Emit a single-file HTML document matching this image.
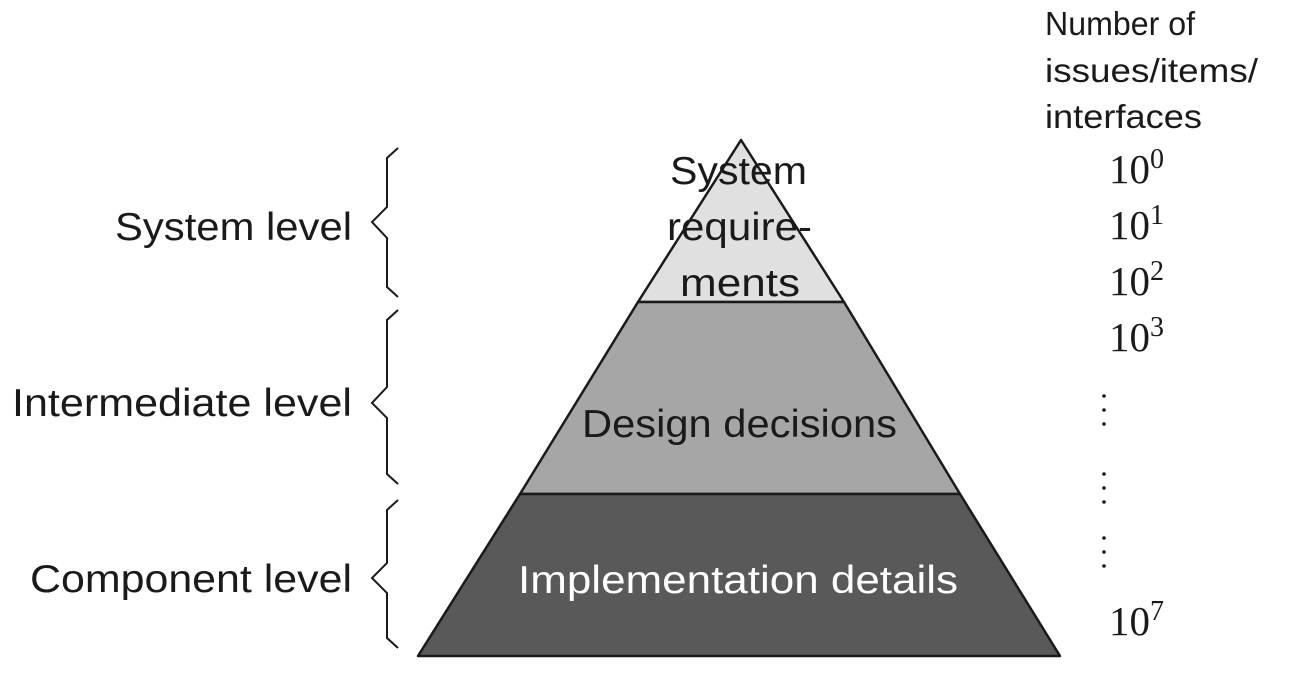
<!DOCTYPE html>
<html><head><meta charset="utf-8"><style>
html,body{margin:0;padding:0;background:#fff;}
svg{display:block;}
</style></head><body>
<svg width="1308" height="688" viewBox="0 0 1308 688" xmlns="http://www.w3.org/2000/svg">
<g stroke="#1a1a1a" stroke-width="2.5" stroke-linejoin="round">
<polygon points="741,140 638,302 844,302" fill="#e0e0e0"/>
<polygon points="638,302 844,302 960,494 520,494" fill="#a6a6a6"/>
<polygon points="520,494 960,494 1060,656 418,656" fill="#595959"/>
</g>
<g fill="none" stroke="#1a1a1a" stroke-width="2">
<polyline points="398,148 387,158 387,207 372,222 387,238 387,287 398,297"/>
<polyline points="398,310 387,320 387,387 372,403 387,418 387,474 398,484"/>
<polyline points="398,500 387,510 387,563 372,578 387,593 387,638 398,648"/>
</g>
<g font-family="Liberation Sans, sans-serif" font-size="39" fill="#1a1a1a" lengthAdjust="spacingAndGlyphs">
<text x="115" y="240" textLength="237" lengthAdjust="spacingAndGlyphs">System level</text>
<text x="12" y="416" textLength="340" lengthAdjust="spacingAndGlyphs">Intermediate level</text>
<text x="30" y="592" textLength="322" lengthAdjust="spacingAndGlyphs">Component level</text>
<text x="670" y="184" textLength="137" lengthAdjust="spacingAndGlyphs">System</text>
<text x="667" y="240" textLength="145" lengthAdjust="spacingAndGlyphs">require-</text>
<text x="680" y="296" textLength="120" lengthAdjust="spacingAndGlyphs">ments</text>
<text x="582" y="437" textLength="315" lengthAdjust="spacingAndGlyphs">Design decisions</text>
<text x="518" y="593" textLength="440" lengthAdjust="spacingAndGlyphs" fill="#fff">Implementation details</text>
</g>
<g font-family="Liberation Sans, sans-serif" font-size="33" fill="#1a1a1a">
<text x="1045" y="35" textLength="150" lengthAdjust="spacingAndGlyphs">Number of</text>
<text x="1045" y="82" textLength="213" lengthAdjust="spacingAndGlyphs">issues/items/</text>
<text x="1045" y="128" textLength="157" lengthAdjust="spacingAndGlyphs">interfaces</text>
</g>
<g font-family="Liberation Serif, serif" font-size="41" fill="#1a1a1a">
<text x="1109" y="183">10<tspan font-size="28" dy="-15">0</tspan></text>
<text x="1109" y="239">10<tspan font-size="28" dy="-15">1</tspan></text>
<text x="1109" y="295">10<tspan font-size="28" dy="-15">2</tspan></text>
<text x="1109" y="351">10<tspan font-size="28" dy="-15">3</tspan></text>
<text x="1109" y="635">10<tspan font-size="28" dy="-15">7</tspan></text>
</g>
<g fill="#1a1a1a">
<circle cx="1104" cy="396" r="1.8"/><circle cx="1104" cy="410" r="1.8"/><circle cx="1104" cy="424" r="1.8"/>
<circle cx="1104" cy="474" r="1.8"/><circle cx="1104" cy="488" r="1.8"/><circle cx="1104" cy="502" r="1.8"/>
<circle cx="1104" cy="538" r="1.8"/><circle cx="1104" cy="552" r="1.8"/><circle cx="1104" cy="566" r="1.8"/>
</g>
</svg>
</body></html>
